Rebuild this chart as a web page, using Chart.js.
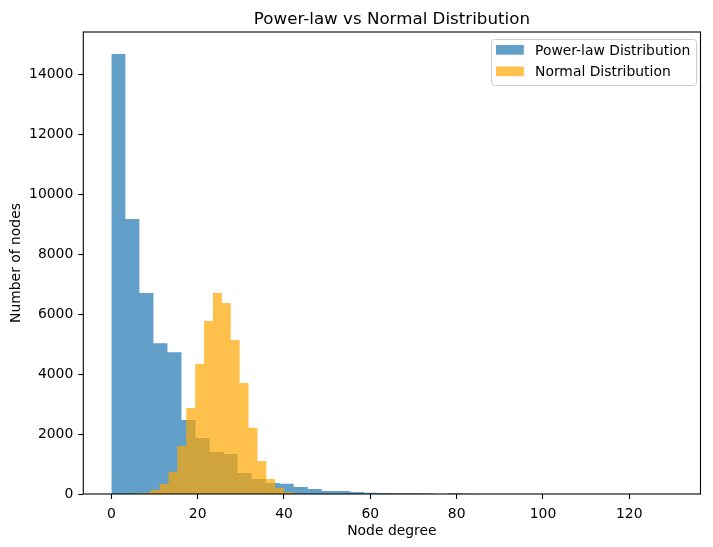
<!DOCTYPE html>
<html>
<head>
<meta charset="utf-8">
<script src="https://cdn.jsdelivr.net/npm/chart.js@4.4.1/dist/chart.umd.min.js"></script>
<style>
  html, body { margin: 0; padding: 0; background: #fff; }
  #wrap { width: 713px; height: 547px; }
</style>
</head>
<body>
<div id="wrap"><canvas id="c" width="713" height="547"></canvas></div>
<script>
// ---- data ----
const powerlawRange = [0, 130];          // histogram range, 40 bins
const powerlawCounts = [14670, 9170, 6700, 5030, 4730, 2470, 1870, 1400, 1330, 700,
                        500, 370, 340, 230, 170, 100, 100, 67, 40, 33,
                        28, 22, 18, 3, 25, 6, 4, 3, 2, 2,
                        1, 1, 1, 0, 1, 0, 0, 1, 0, 1];
const normalRange = [5.0, 46.2];         // histogram range, 20 bins
const normalCounts = [20, 45, 133, 333, 733, 1600, 2867, 4333, 5767, 6700,
                      6367, 5133, 3700, 2211, 1100, 500, 200, 67, 15, 3];
const seriesNames = ['Power-law Distribution', 'Normal Distribution'];
const xTicks = [0, 20, 40, 60, 80, 100, 120];
const yTicks = [0, 2000, 4000, 6000, 8000, 10000, 12000, 14000];
const titleText = 'Power-law vs Normal Distribution';
const xLabel = 'Node degree';
const yLabel = 'Number of nodes';

const blueFill = 'rgba(31,119,180,0.7)';
const orangeFill = 'rgba(255,165,0,0.7)';
const FONT = '"DejaVu Sans", "Liberation Sans", sans-serif';

function histPoints(range, counts) {
  const n = counts.length;
  const w = (range[1] - range[0]) / n;
  const pts = counts.map((c, i) => ({ x: range[0] + i * w, y: c }));
  pts.push({ x: range[1], y: 0 });
  return pts;
}

const xMin = powerlawRange[0] - 0.05 * (powerlawRange[1] - powerlawRange[0]);
const xMax = powerlawRange[1] + 0.05 * (powerlawRange[1] - powerlawRange[0]);
const yMax = Math.max(...powerlawCounts, ...normalCounts) * 1.05;

const overlay = {
  id: 'overlay',
  afterDraw(chart) {
    const { ctx, chartArea: a } = chart;
    ctx.save();
    // frame (all four spines)
    ctx.strokeStyle = '#000';
    ctx.lineWidth = 1.1;
    ctx.strokeRect(a.left, a.top, a.right - a.left, a.bottom - a.top);
    // title
    ctx.fillStyle = '#000';
    ctx.textAlign = 'center';
    ctx.textBaseline = 'alphabetic';
    ctx.font = '16.7px ' + FONT;
    ctx.fillText(titleText, (a.left + a.right) / 2, a.top - 8.3);
    // x label
    ctx.font = '13.9px ' + FONT;
    ctx.fillText(xLabel, (a.left + a.right) / 2, 535);
    // y label
    ctx.save();
    ctx.translate(16, (a.top + a.bottom) / 2);
    ctx.rotate(-Math.PI / 2);
    ctx.textBaseline = 'middle';
    ctx.fillText(yLabel, 0, 0);
    ctx.restore();
    // legend
    const bx = a.right - 209.5, by = a.top + 7, bw = 205, bh = 46;
    ctx.beginPath();
    ctx.roundRect(bx + 0.5, by + 0.5, bw, bh, 3);
    ctx.fillStyle = 'rgba(255,255,255,0.8)';
    ctx.fill();
    ctx.strokeStyle = '#cccccc';
    ctx.lineWidth = 1;
    ctx.stroke();
    const fills = [blueFill, orangeFill];
    ctx.textAlign = 'left';
    ctx.textBaseline = 'middle';
    ctx.font = '13.9px ' + FONT;
    for (let i = 0; i < 2; i++) {
      const ry = by + 6 + i * 21.5;
      ctx.fillStyle = fills[i];
      ctx.fillRect(bx + 5, ry, 27.8, 9.7);
      ctx.fillStyle = '#000';
      ctx.fillText(seriesNames[i], bx + 44, ry + 6.2);
    }
    ctx.restore();
  }
};

new Chart(document.getElementById('c'), {
  type: 'line',
  data: {
    datasets: [
      {
        label: seriesNames[0],
        data: histPoints(powerlawRange, powerlawCounts),
        stepped: true,
        fill: 'origin',
        backgroundColor: blueFill,
        borderColor: 'rgba(0,0,0,0)',
        borderWidth: 0,
        pointRadius: 0,
        pointHoverRadius: 0,
        order: 2
      },
      {
        label: seriesNames[1],
        data: histPoints(normalRange, normalCounts),
        stepped: true,
        fill: 'origin',
        backgroundColor: orangeFill,
        borderColor: 'rgba(0,0,0,0)',
        borderWidth: 0,
        pointRadius: 0,
        pointHoverRadius: 0,
        order: 1
      }
    ]
  },
  options: {
    responsive: false,
    animation: false,
    devicePixelRatio: 1,
    layout: { padding: { top: 32, right: 12.5, bottom: 0, left: 0 } },
    plugins: {
      legend: { display: false },
      tooltip: { enabled: false },
      title: { display: false }
    },
    scales: {
      x: {
        type: 'linear',
        min: xMin,
        max: xMax,
        offset: false,
        border: { display: false },
        grid: { drawOnChartArea: false, drawTicks: true, tickLength: 5, tickColor: '#000', tickWidth: 1.1 },
        ticks: {
          color: '#000', font: { family: FONT, size: 13.9 }, padding: 7,
          autoSkip: false, maxRotation: 0, callback: v => String(v)
        },
        afterBuildTicks: s => { s.ticks = xTicks.map(v => ({ value: v })); },
        afterFit: s => { s.height = 53; }
      },
      y: {
        type: 'linear',
        min: 0,
        max: yMax,
        border: { display: false },
        grid: { drawOnChartArea: false, drawTicks: true, tickLength: 5, tickColor: '#000', tickWidth: 1.1 },
        ticks: {
          color: '#000', font: { family: FONT, size: 13.9 }, padding: 5,
          autoSkip: false, callback: v => String(v)
        },
        afterBuildTicks: s => { s.ticks = yTicks.map(v => ({ value: v })); },
        afterFit: s => { s.width = 83.3; }
      }
    }
  },
  plugins: [overlay]
});
</script>
</body>
</html>
